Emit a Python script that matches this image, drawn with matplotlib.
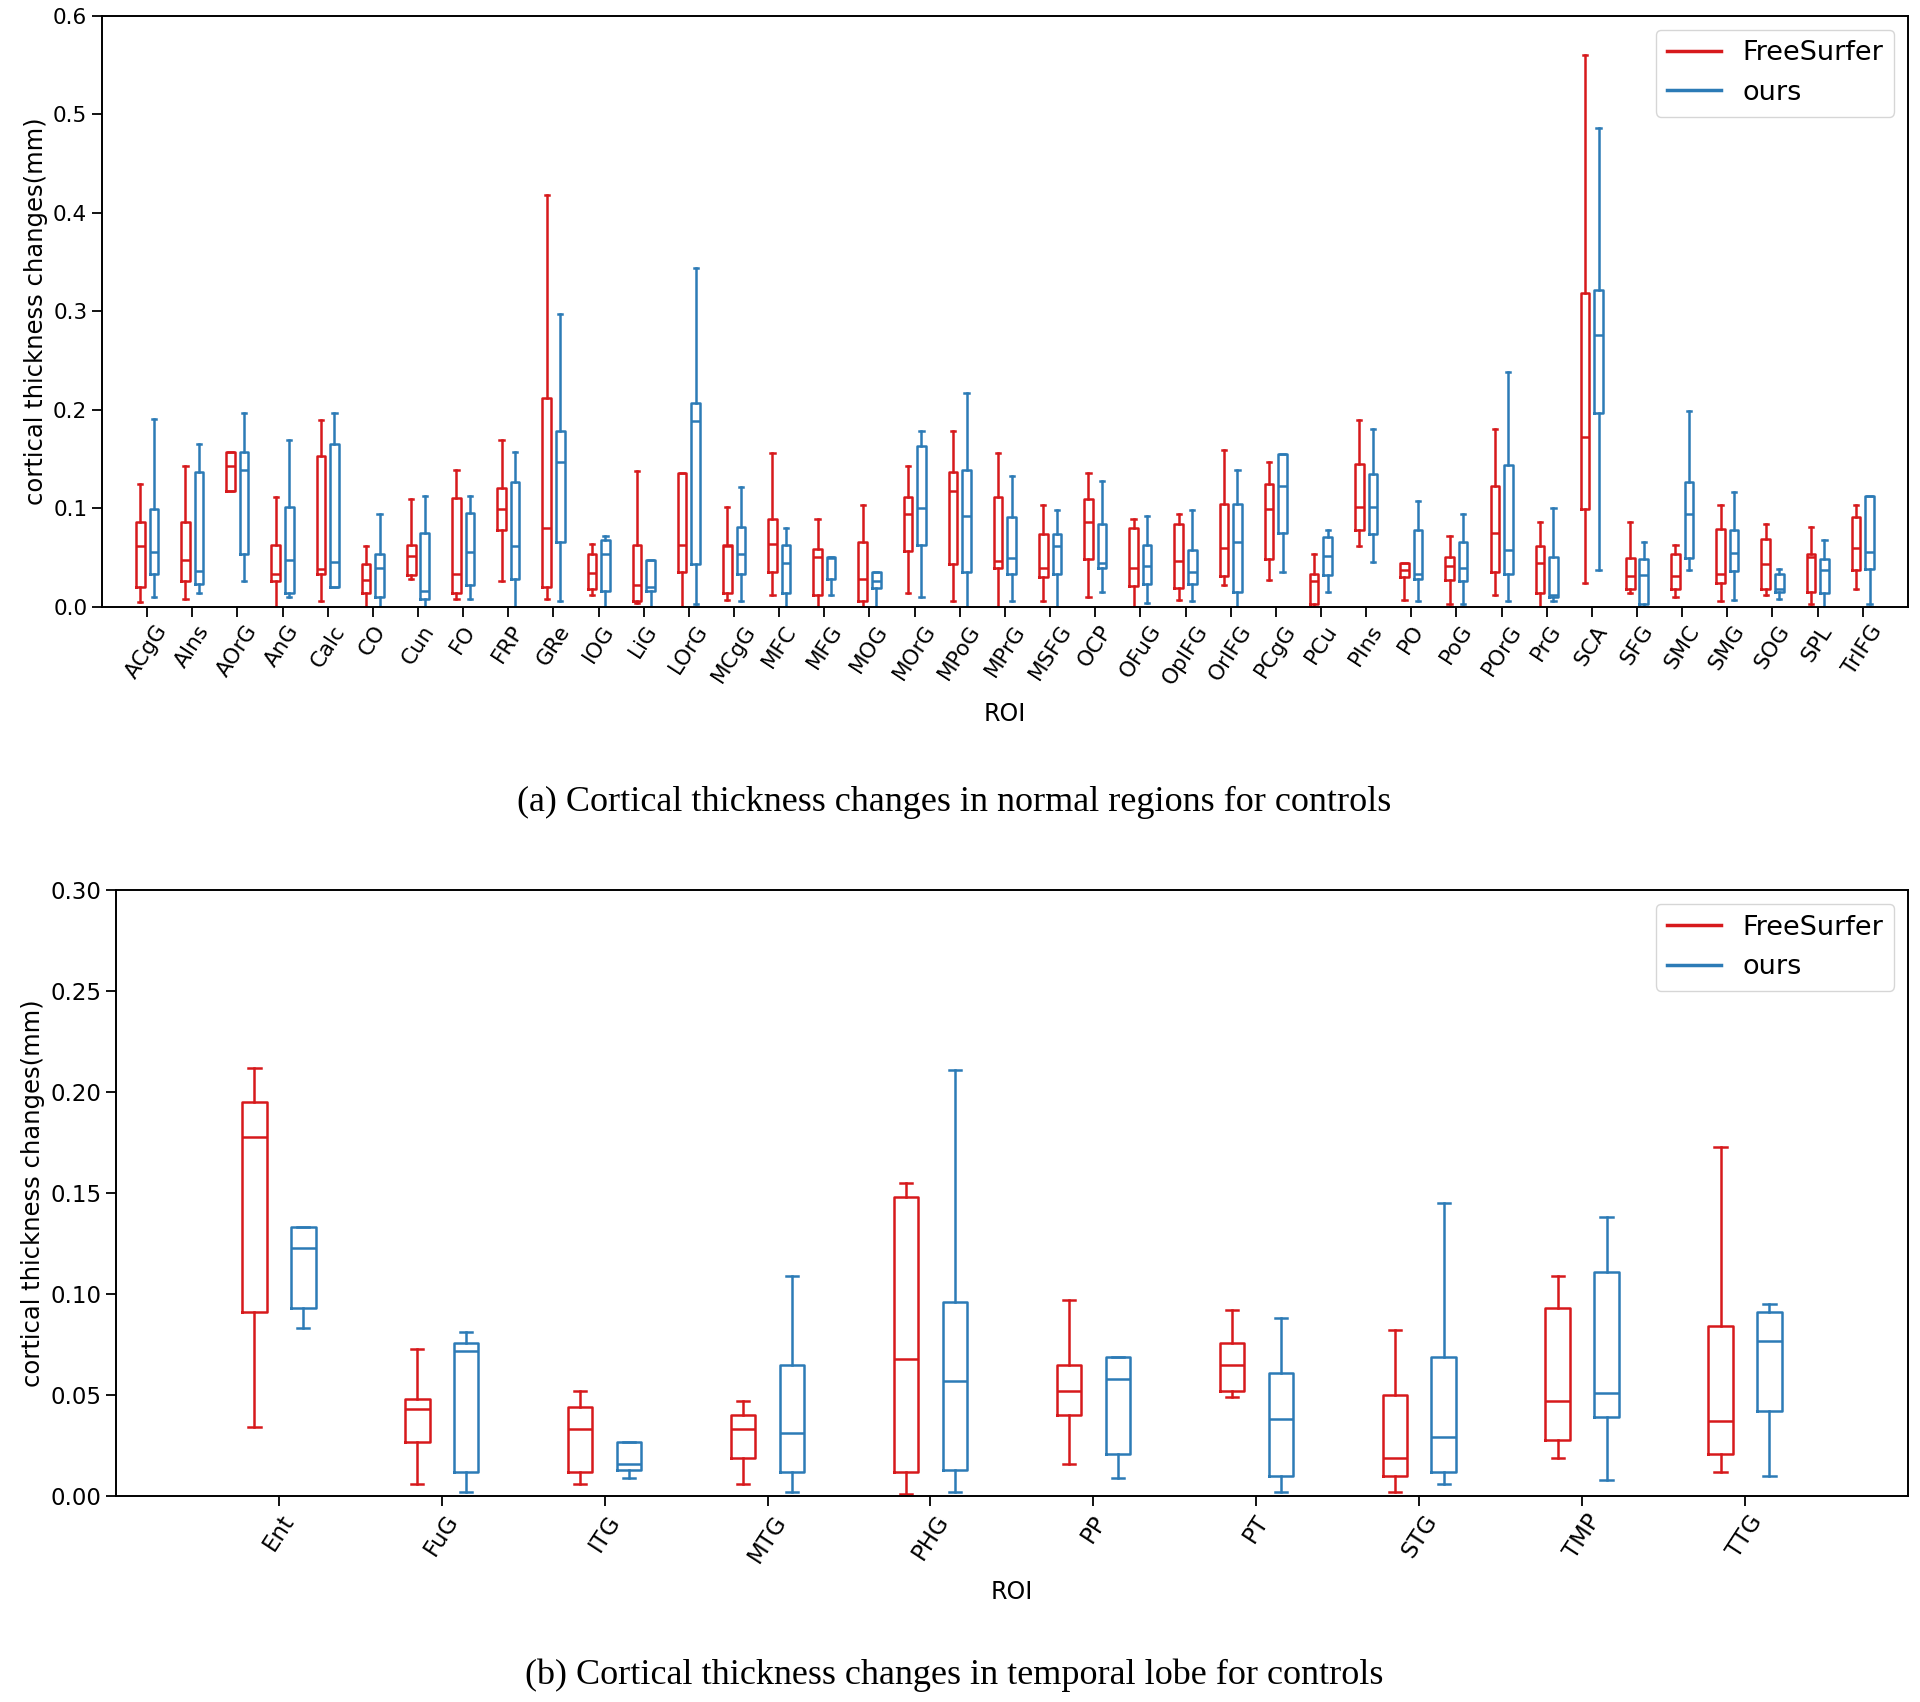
import numpy as np
import matplotlib
matplotlib.use('Agg')
from matplotlib import pyplot as plt

RED = '#D7191C'
BLUE = '#2C7BB6'

# (a) normal regions
roi_a = ['ACgG', 'AIns', 'AOrG', 'AnG', 'Calc', 'CO', 'Cun', 'FO', 'FRP', 'GRe',
         'IOG', 'LiG', 'LOrG', 'MCgG', 'MFC', 'MFG', 'MOG', 'MOrG', 'MPoG', 'MPrG',
         'MSFG', 'OCP', 'OFuG', 'OpIFG', 'OrIFG', 'PCgG', 'PCu', 'PIns', 'PO', 'PoG',
         'POrG', 'PrG', 'SCA', 'SFG', 'SMC', 'SMG', 'SOG', 'SPL', 'TrIFG']

# FreeSurfer: lower whisker, Q1, median, Q3, upper whisker
fs_lo_a = [0.005, 0.008, 0.118, 0.000, 0.006, 0.000, 0.028, 0.008, 0.026, 0.008,
           0.012, 0.004, 0.000, 0.007, 0.012, 0.000, 0.000, 0.014, 0.006, 0.000,
           0.006, 0.010, 0.000, 0.007, 0.022, 0.027, 0.000, 0.062, 0.007, 0.003,
           0.012, 0.000, 0.024, 0.014, 0.010, 0.006, 0.012, 0.003, 0.018]
fs_q1_a = [0.020, 0.026, 0.118, 0.026, 0.033, 0.014, 0.032, 0.014, 0.078, 0.020,
           0.018, 0.006, 0.035, 0.014, 0.035, 0.012, 0.006, 0.057, 0.044, 0.040,
           0.030, 0.049, 0.021, 0.019, 0.031, 0.049, 0.003, 0.078, 0.030, 0.027,
           0.035, 0.014, 0.099, 0.018, 0.018, 0.024, 0.018, 0.015, 0.038]
fs_med_a = [0.062, 0.048, 0.143, 0.033, 0.039, 0.027, 0.052, 0.033, 0.099, 0.080,
            0.034, 0.022, 0.063, 0.062, 0.064, 0.051, 0.028, 0.094, 0.118, 0.047,
            0.040, 0.086, 0.040, 0.047, 0.060, 0.099, 0.026, 0.101, 0.038, 0.042,
            0.075, 0.045, 0.173, 0.031, 0.031, 0.033, 0.044, 0.051, 0.060]
fs_q3_a = [0.086, 0.086, 0.157, 0.063, 0.153, 0.044, 0.063, 0.111, 0.121, 0.212,
           0.054, 0.063, 0.136, 0.063, 0.089, 0.059, 0.066, 0.112, 0.137, 0.112,
           0.074, 0.110, 0.080, 0.084, 0.105, 0.125, 0.033, 0.145, 0.045, 0.051,
           0.123, 0.062, 0.319, 0.050, 0.054, 0.079, 0.069, 0.054, 0.091]
fs_hi_a = [0.125, 0.143, 0.157, 0.112, 0.190, 0.062, 0.110, 0.139, 0.169, 0.418,
           0.064, 0.138, 0.136, 0.101, 0.156, 0.089, 0.104, 0.143, 0.179, 0.156,
           0.104, 0.136, 0.089, 0.094, 0.159, 0.147, 0.054, 0.190, 0.045, 0.072,
           0.181, 0.086, 0.560, 0.086, 0.063, 0.104, 0.084, 0.081, 0.104]

# ours
our_lo_a = [0.010, 0.014, 0.026, 0.010, 0.020, 0.000, 0.000, 0.008, 0.000, 0.006,
            0.000, 0.000, 0.003, 0.006, 0.000, 0.012, 0.000, 0.010, 0.000, 0.006,
            0.000, 0.015, 0.004, 0.006, 0.000, 0.035, 0.015, 0.046, 0.006, 0.003,
            0.006, 0.006, 0.038, 0.000, 0.038, 0.007, 0.008, 0.000, 0.003]
our_q1_a = [0.033, 0.023, 0.054, 0.014, 0.020, 0.010, 0.008, 0.022, 0.028, 0.066,
            0.016, 0.016, 0.044, 0.033, 0.014, 0.028, 0.019, 0.063, 0.035, 0.033,
            0.033, 0.040, 0.023, 0.023, 0.015, 0.075, 0.032, 0.074, 0.028, 0.026,
            0.033, 0.010, 0.197, 0.003, 0.050, 0.036, 0.015, 0.014, 0.039]
our_med_a = [0.056, 0.036, 0.139, 0.048, 0.046, 0.040, 0.016, 0.056, 0.062, 0.147,
             0.054, 0.020, 0.189, 0.054, 0.045, 0.050, 0.026, 0.100, 0.092, 0.050,
             0.062, 0.045, 0.042, 0.035, 0.066, 0.123, 0.052, 0.101, 0.033, 0.040,
             0.058, 0.012, 0.276, 0.032, 0.094, 0.055, 0.018, 0.038, 0.056]
our_q3_a = [0.099, 0.137, 0.157, 0.101, 0.165, 0.054, 0.075, 0.095, 0.127, 0.179,
            0.068, 0.048, 0.207, 0.081, 0.063, 0.051, 0.035, 0.163, 0.139, 0.091,
            0.074, 0.084, 0.063, 0.058, 0.105, 0.155, 0.071, 0.135, 0.078, 0.066,
            0.144, 0.051, 0.322, 0.049, 0.127, 0.078, 0.033, 0.049, 0.113]
our_hi_a = [0.191, 0.165, 0.197, 0.169, 0.197, 0.094, 0.113, 0.113, 0.157, 0.297,
            0.072, 0.048, 0.344, 0.122, 0.080, 0.051, 0.035, 0.179, 0.217, 0.133,
            0.098, 0.128, 0.092, 0.098, 0.139, 0.155, 0.078, 0.181, 0.108, 0.094,
            0.239, 0.100, 0.486, 0.066, 0.199, 0.117, 0.039, 0.068, 0.113]

# (b) temporal lobe
roi_b = ['Ent', 'FuG', 'ITG', 'MTG', 'PHG', 'PP', 'PT', 'STG', 'TMP', 'TTG']

fs_lo_b = [0.034, 0.006, 0.006, 0.006, 0.001, 0.016, 0.049, 0.002, 0.019, 0.012]
fs_q1_b = [0.091, 0.027, 0.012, 0.019, 0.012, 0.040, 0.052, 0.010, 0.028, 0.021]
fs_med_b = [0.178, 0.043, 0.033, 0.033, 0.068, 0.052, 0.065, 0.019, 0.047, 0.037]
fs_q3_b = [0.195, 0.048, 0.044, 0.040, 0.148, 0.065, 0.076, 0.050, 0.093, 0.084]
fs_hi_b = [0.212, 0.073, 0.052, 0.047, 0.155, 0.097, 0.092, 0.082, 0.109, 0.173]

our_lo_b = [0.083, 0.002, 0.009, 0.002, 0.002, 0.009, 0.002, 0.006, 0.008, 0.010]
our_q1_b = [0.093, 0.012, 0.013, 0.012, 0.013, 0.021, 0.010, 0.012, 0.039, 0.042]
our_med_b = [0.123, 0.072, 0.016, 0.031, 0.057, 0.058, 0.038, 0.029, 0.051, 0.077]
our_q3_b = [0.133, 0.076, 0.027, 0.065, 0.096, 0.069, 0.061, 0.069, 0.111, 0.091]
our_hi_b = [0.133, 0.081, 0.027, 0.109, 0.211, 0.069, 0.088, 0.145, 0.138, 0.095]


def make_stats(lo, q1, med, q3, hi):
    return [dict(whislo=a, q1=b, med=c, q3=d, whishi=e)
            for a, b, c, d, e in zip(lo, q1, med, q3, hi)]


def set_box_color(bp, color):
    for key in ['boxes', 'whiskers', 'caps', 'medians']:
        plt.setp(bp[key], color=color, linewidth=1.8)


def draw(ax, ticks, fs, ours, width, ymax, ystep, fmt, tsize):
    n = len(ticks)
    pos = np.arange(n) * 2.0
    bpl = ax.bxp(make_stats(*fs), positions=pos - 0.3, widths=width,
                 showfliers=False, manage_ticks=False)
    bpr = ax.bxp(make_stats(*ours), positions=pos + 0.3, widths=width,
                 showfliers=False, manage_ticks=False)
    set_box_color(bpl, RED)
    set_box_color(bpr, BLUE)
    ax.plot([], c=RED, lw=2.5, label='FreeSurfer')
    ax.plot([], c=BLUE, lw=2.5, label='ours')
    ax.legend(loc='upper right', fontsize=19.5, handlelength=2.0)
    ax.set_xticks(pos)
    ax.set_xticklabels(ticks, rotation=57, fontsize=tsize)
    ax.set_xlim(-2, n * 2)
    ax.set_ylim(0, ymax)
    yt = np.arange(0, ymax + ystep / 2, ystep)
    ax.set_yticks(yt)
    ax.set_yticklabels([fmt % v for v in yt])
    ax.tick_params(axis='y', labelsize=tsize, length=7, width=1.3)
    ax.tick_params(axis='x', length=7, width=1.3)
    ax.set_xlabel('ROI', fontsize=17, labelpad=10)
    ax.set_ylabel('cortical thickness changes(mm)', fontsize=17.5)
    for s in ax.spines.values():
        s.set_linewidth(1.4)


fig = plt.figure(figsize=(19.2, 17.02), dpi=100)

ax1 = fig.add_axes([0.0531, 0.6434, 0.9406, 0.3472])
draw(ax1, roi_a, (fs_lo_a, fs_q1_a, fs_med_a, fs_q3_a, fs_hi_a),
     (our_lo_a, our_q1_a, our_med_a, our_q3_a, our_hi_a), 0.38, 0.6, 0.1, '%.1f', 15.5)

ax2 = fig.add_axes([0.0604, 0.1210, 0.9333, 0.3560])
draw(ax2, roi_b, (fs_lo_b, fs_q1_b, fs_med_b, fs_q3_b, fs_hi_b),
     (our_lo_b, our_q1_b, our_med_b, our_q3_b, our_hi_b), 0.3, 0.30, 0.05, '%.2f', 16.5)

fig.text(0.497, 0.5288, '(a) Cortical thickness changes in normal regions for controls',
         ha='center', va='center', fontsize=26, family='Liberation Serif')
fig.text(0.497, 0.0159, '(b) Cortical thickness changes in temporal lobe for controls',
         ha='center', va='center', fontsize=26, family='Liberation Serif')

fig.savefig('out.png', dpi=100)
